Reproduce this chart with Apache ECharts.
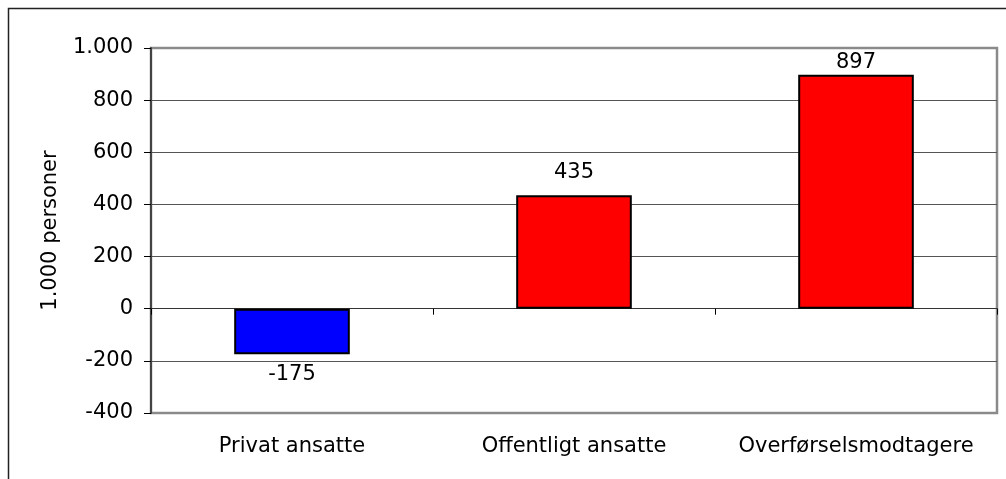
<!DOCTYPE html>
<html>
<head>
<meta charset="utf-8">
<script src="https://cdn.jsdelivr.net/npm/echarts@6/dist/echarts.min.js"></script>
<style>
  html, body { margin: 0; padding: 0; background: #fff; }
  #chart { width: 1006px; height: 479px; }
</style>
</head>
<body>
<div id="chart"></div>
<script>
// kategorier og værdier (1.000 personer)
var categories = ['Privat ansatte', 'Offentligt ansatte', 'Overførselsmodtagere'];
var values = [-175, 435, 897];
var barColors = ['#0000FF', '#FF0000', '#FF0000'];
var yMin = -400, yMax = 1000, yStep = 200;

// afstand fra søjle til værdilabel (som i Excel-figuren)
var labelGap = [10, 12, 2];

var FONT = 'DejaVu Sans';

// tusindtalsseparator med punktum
function fmt(v) {
    var s = String(Math.abs(v)).replace(/\B(?=(\d{3})+(?!\d))/g, '.');
    return (v < 0 ? '-' : '') + s;
}

var chart = echarts.init(document.getElementById('chart'));

var barData = values.map(function (v, i) {
    return {
        value: v,
        itemStyle: { color: barColors[i] },
        label: { position: v < 0 ? 'bottom' : 'top', distance: labelGap[i] }
    };
});

var option = {
    animation: false,
    graphic: [{
        type: 'rect',
        shape: { x: 8.5, y: 8.5, width: 1200, height: 600 },
        style: { fill: 'none', stroke: '#222', lineWidth: 1.5 },
        silent: true
    }],
    grid: {
        left: 151, top: 48, right: 9, bottom: 66,
        show: true, borderColor: '#8a8a8a', borderWidth: 2.5
    },
    xAxis: [{
        type: 'category',
        data: categories,
        axisLine: { onZero: true, lineStyle: { color: '#333', width: 1 } },
        axisTick: { show: true, length: 6, lineStyle: { color: '#000' } },
        axisLabel: { show: false }
    }, {
        type: 'category',
        data: categories,
        position: 'bottom',
        axisLine: { show: false, onZero: false },
        axisTick: { show: false },
        axisLabel: { interval: 0, margin: 23, color: '#000', fontFamily: FONT, fontSize: 21 }
    }],
    yAxis: {
        type: 'value',
        min: yMin, max: yMax, interval: yStep,
        name: '1.000 personer',
        nameLocation: 'middle',
        nameGap: 90,
        nameTextStyle: { color: '#000', fontFamily: FONT, fontSize: 21 },
        axisLine: { show: true, lineStyle: { color: '#444', width: 2 } },
        axisTick: { show: true, length: 7, lineStyle: { color: '#000' } },
        axisLabel: { margin: 18, color: '#000', fontFamily: FONT, fontSize: 21, formatter: fmt },
        splitLine: { showMinLine: false, showMaxLine: false, lineStyle: { color: '#555', width: 1 } }
    },
    series: [{
        type: 'bar',
        xAxisIndex: 0,
        data: barData,
        barWidth: '41%',
        itemStyle: { borderColor: '#000', borderWidth: 2 },
        label: {
            show: true, color: '#000', fontFamily: FONT, fontSize: 21,
            formatter: function (p) { return fmt(p.value); }
        }
    }]
};

chart.setOption(option);
</script>
</body>
</html>
